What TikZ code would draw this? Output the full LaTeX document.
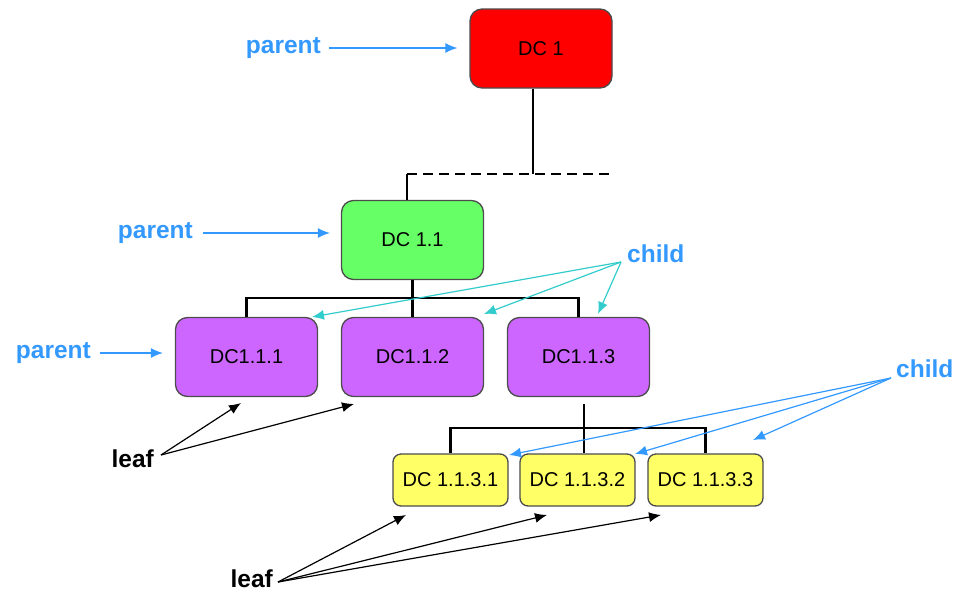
\documentclass[tikz,border=0pt]{standalone}
\usepackage{fontspec}
\setmainfont{Liberation Sans}
\usetikzlibrary{arrows.meta}
\definecolor{lblblue}{HTML}{3399FF}
\definecolor{lblteal}{HTML}{33CCCC}
\definecolor{dcred}{HTML}{FF0000}
\definecolor{dcgreen}{HTML}{66FF66}
\definecolor{dcpurple}{HTML}{CC66FF}
\definecolor{dcyellow}{HTML}{FFFF66}
\tikzset{
  dcbox/.style={draw=black!70, line width=1.3pt, rounded corners=12pt, inner sep=0pt, font=\fontsize{20}{24}\selectfont},
  bigbox/.style={dcbox, minimum width=142pt, minimum height=79pt},
  smallbox/.style={dcbox, rounded corners=8pt, minimum width=115pt, minimum height=52pt},
  treeline/.style={line width=2.5pt, black},
  lbl/.style={font=\fontsize{24.5}{28}\selectfont\bfseries, inner sep=0pt},
  bluearrow/.style={lblblue, line width=1.2pt, -{Latex[length=12pt,width=10pt]}},
  tealarrow/.style={lblteal, line width=1.2pt, -{Latex[length=12pt,width=10pt]}},
  blackarrow/.style={black, line width=1.2pt, -{Latex[length=12pt,width=10pt]}},
}
\begin{document}
\begin{tikzpicture}[x=1pt,y=-1pt]
\useasboundingbox (0,0) rectangle (958,592);
% boxes
\node[bigbox, fill=dcred] (dc1) at (541,48.5) {DC 1};
\node[bigbox, fill=dcgreen] (dc11) at (412.5,240) {DC 1.1};
\node[bigbox, fill=dcpurple] (dc111) at (246.5,357) {DC1.1.1};
\node[bigbox, fill=dcpurple] (dc112) at (412.5,357) {DC1.1.2};
\node[bigbox, fill=dcpurple] (dc113) at (578.5,357) {DC1.1.3};
\node[smallbox, fill=dcyellow] (dc1131) at (450.5,480) {DC 1.1.3.1};
\node[smallbox, fill=dcyellow] (dc1132) at (577.5,480) {DC 1.1.3.2};
\node[smallbox, fill=dcyellow] (dc1133) at (705.5,480) {DC 1.1.3.3};
% tree lines
\coordinate (j1) at (533,174);
\coordinate (j1l) at (407,174);
\coordinate (j1r) at (612,174);
\draw[treeline] (dc1.south -| j1) -- (j1);
\draw[treeline, dash pattern=on 10pt off 6pt] (j1l) -- (j1r);
\draw[treeline] (j1l) -- (j1l |- dc11.north);
\coordinate (j2) at (412.5,298);
\draw[treeline] (dc11.south) -- (j2);
\draw[treeline] (dc111.north) -- (dc111.north |- j2) -- (dc113.north |- j2) -- (dc113.north);
\draw[treeline] (j2) -- (dc112.north);
\coordinate (j3t) at (584,404);
\coordinate (j3) at (584,428);
\draw[treeline] (j3t) -- (j3 |- dc1132.north);
\draw[treeline] (dc1131.north) -- (dc1131.north |- j3) -- (dc1133.north |- j3) -- (dc1133.north);
% labels
\node[lbl, lblblue, anchor=base east] (p1) at (321,53) {parent};
\node[lbl, lblblue, anchor=base east] (p2) at (193,238) {parent};
\node[lbl, lblblue, anchor=base east] (p3) at (91,358) {parent};
\node[lbl, lblblue, anchor=base west] (c1) at (627,262) {child};
\node[lbl, lblblue, anchor=base west] (c2) at (896,377) {child};
\node[lbl, black, anchor=base east] (l1) at (154,467) {leaf};
\node[lbl, black, anchor=base east] (l2) at (273,587) {leaf};
% parent arrows
\coordinate (p1s) at (329,48);
\coordinate (p2s) at (203,233);
\coordinate (p3s) at (100,353);
\draw[bluearrow] (p1s) -- ([xshift=-12pt]dc1.west |- p1s);
\draw[bluearrow] (p2s) -- ([xshift=-11pt]dc11.west |- p2s);
\draw[bluearrow] (p3s) -- ([xshift=-12pt]dc111.west |- p3s);
% child arrows (teal)
\coordinate (c1s) at (621,262);
\draw[tealarrow] (c1s) -- (312,317);
\draw[tealarrow] (c1s) -- (484,314);
\draw[tealarrow] (c1s) -- (598,314);
% child arrows (blue)
\coordinate (c2s) at (891,378);
\draw[bluearrow] (c2s) -- (509,455);
\draw[bluearrow] (c2s) -- (635,454);
\draw[bluearrow] (c2s) -- (753,440);
% leaf arrows
\coordinate (l1s) at (161,455);
\draw[blackarrow] (l1s) -- (241,403);
\draw[blackarrow] (l1s) -- (354,404);
\coordinate (l2s) at (278,582);
\draw[blackarrow] (l2s) -- (406,515);
\draw[blackarrow] (l2s) -- (547,515);
\draw[blackarrow] (l2s) -- (661,515);
\end{tikzpicture}
\end{document}
